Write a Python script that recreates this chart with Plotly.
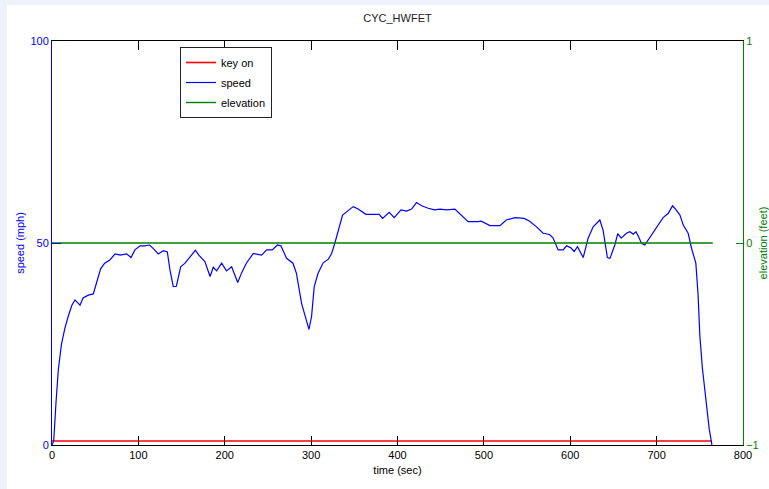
import plotly.graph_objects as go

title_text = "CYC_HWFET"
x_title = "time (sec)"
y_title = "speed (mph)"
y2_title = "elevation (feet)"

time_s = [0, 2, 4.6, 7.3, 11, 15, 19, 23, 26.6, 32.4, 36, 42, 47.8, 51.7, 56.3, 61, 67, 73, 79,
          86.4, 91.5, 96, 102, 107.6, 113, 118, 123, 129, 133.5, 136.6, 140.4, 144, 149, 154, 160,
          166, 170, 177, 183, 186.7, 190.6, 196.4, 202, 208, 215, 219.5, 225, 233, 242.7, 248.5,
          255, 261, 265, 271.6, 279, 283, 289, 293.6, 297.5, 300.5, 303.6, 308, 314, 320, 323.7,
          327.5, 332, 336.4, 341, 348.7, 354.5, 363.4, 371.9, 378.8, 382.7, 390.4, 396.2, 404,
          410.5, 416.3, 422, 428, 435.6, 443, 449, 456.8, 466.4, 473, 481.8, 493.4, 497, 507,
          518.5, 526, 536, 546.6, 553, 561, 568.6, 576, 580, 586, 591.8, 595.7, 600.7, 604.5,
          608.4, 615, 620.7, 626.5, 634.3, 638, 643, 646, 651.6, 655, 659, 665, 669, 673, 676,
          679, 682.5, 686.3, 694, 700, 707.5, 713.3, 718.4, 721, 727, 730.7, 736.5, 740.4, 745.4,
          748, 750, 753, 757, 760.8, 764]
speed_mph = [0, 1, 10.4, 18.6, 25, 29, 32, 34.6, 35.9, 34.6, 36.4, 37.1, 37.4, 40, 43.6, 45, 45.8,
             47.3, 47, 47.3, 46.4, 48.3, 49.3, 49.3, 49.5, 48.5, 47.3, 48.1, 47.8, 43.3, 39.2, 39.3,
             44.1, 45, 46.6, 48.2, 47, 45.4, 41.7, 44, 43.1, 45, 43.1, 44.1, 40.2, 42.6, 45, 47.4,
             47, 48.3, 48.3, 49.5, 49.3, 46.2, 45, 42.5, 35, 31.4, 28.6, 31.8, 39.2, 42.5, 45.1, 46,
             47.4, 50, 53.2, 56.9, 57.7, 59, 58.4, 57.1, 57.1, 57.1, 56.1, 57.6, 56.3, 58.2, 57.9,
             58.4, 60, 59.2, 58.6, 58.2, 58.4, 58.2, 58.4, 57.1, 55.3, 55.3, 55.4, 54.3, 54.3, 55.7,
             56.3, 56.1, 55.4, 54, 52.4, 52.1, 51.3, 48.3, 48.3, 49.3, 48.8, 47.9, 49.1, 46.4, 51.2,
             54, 55.7, 53.2, 46.4, 46.2, 49.5, 52.3, 51.2, 52.4, 52.8, 52.2, 52.8, 51.6, 49.9, 49.5,
             52, 54, 56.3, 57.3, 59.2, 58.6, 56.9, 54.5, 52.4, 48.7, 45, 37.1, 27.2, 19, 10.7, 4.1, 0]

key_time = [0, 764]
key_on = [1, 1]
elev_time = [0, 765]
elevation_ft = [0, 0]

x_ticks = [0, 100, 200, 300, 400, 500, 600, 700, 800]
y_ticks = [0, 50, 100]
y2_ticks = [-1, 0, 1]

FONT = "Liberation Sans, Arial, Helvetica, sans-serif"
BLUE = "#0000ff"
GREEN = "#008000"
RED = "#ff0000"

fig = go.Figure()
fig.add_trace(go.Scatter(x=key_time, y=key_on, mode="lines", name="key on",
                         line=dict(color=RED, width=1.6), legendgroup="a"))
fig.add_trace(go.Scatter(x=time_s, y=speed_mph, mode="lines", name="speed",
                         line=dict(color=BLUE, width=1.2), legendgroup="b"))
fig.add_trace(go.Scatter(x=elev_time, y=elevation_ft, mode="lines", name="elevation",
                         line=dict(color=GREEN, width=1.4), legendgroup="c", yaxis="y2"))

fig.update_layout(
    width=769, height=489,
    margin=dict(l=52, r=26, t=41, b=44, autoexpand=False),
    paper_bgcolor="#eef3fb",
    plot_bgcolor="white",
    font=dict(family=FONT, size=11, color="black"),
    title=dict(text=title_text, x=0.5, xref="paper", xanchor="center",
               y=1 - 18 / 489, yref="container", yanchor="middle",
               font=dict(family=FONT, size=11, color="#222222")),
    showlegend=True,
    legend=dict(x=(180 - 52) / 691, y=(445 - 47) / 404, xanchor="left", yanchor="top",
                bgcolor="white", bordercolor="#222222", borderwidth=1,
                font=dict(family=FONT, size=11, color="black"),
                tracegroupgap=1),
    xaxis=dict(range=[0, 800], tickvals=x_ticks, ticks="inside", ticklen=9,
               tickcolor="black", showline=True, linecolor="black", linewidth=1,
               mirror="ticks", showgrid=False, zeroline=False,
               tickfont=dict(family=FONT, size=11, color="black"),
               title=dict(text=x_title, standoff=6,
                          font=dict(family=FONT, size=11, color="black"))),
    yaxis=dict(range=[0, 100], tickvals=y_ticks, ticks="inside", ticklen=9,
               tickcolor=BLUE, showline=True, linecolor=BLUE, linewidth=1,
               showgrid=False, zeroline=False,
               tickfont=dict(family=FONT, size=11, color=BLUE),
               title=dict(text=y_title, standoff=3,
                          font=dict(family=FONT, size=11, color=BLUE))),
    yaxis2=dict(range=[-1, 1], tickvals=y2_ticks, ticks="inside", ticklen=7,
                tickcolor=GREEN, showline=True, linecolor=GREEN, linewidth=1,
                overlaying="y", side="right", anchor="x",
                showgrid=False, zeroline=False,
                tickfont=dict(family=FONT, size=11, color=GREEN),
                title=dict(text=y2_title, standoff=6,
                           font=dict(family=FONT, size=11, color=GREEN))),
    shapes=[dict(type="rect", xref="paper", yref="paper", layer="below",
                 x0=(7 - 52) / 691, x1=1.2, y0=-0.2, y1=(445 - 5) / 404,
                 fillcolor="white", line=dict(width=0))],
)

fig.write_html("out.html")
